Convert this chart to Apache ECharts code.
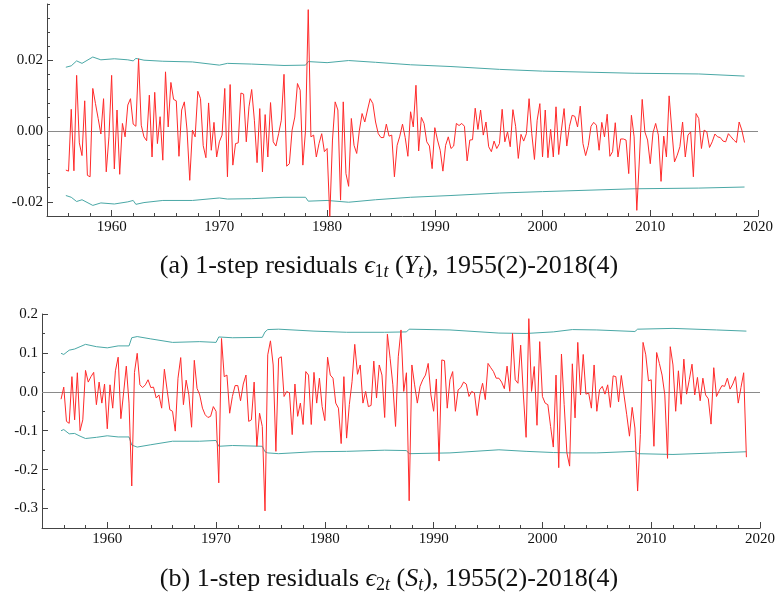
<!DOCTYPE html>
<html>
<head>
<meta charset="utf-8">
<title>1-step residuals</title>
<script src="https://cdn.jsdelivr.net/npm/echarts@6/dist/echarts.min.js"></script>
<style>
  html, body { margin: 0; padding: 0; background: #fff; }
  #chart { width: 778px; height: 596px; }
</style>
</head>
<body>
<div id="chart"></div>
<script>
const FONT = '"Liberation Serif", "DejaVu Serif", serif';
const RED = "#ff2a2a";
const TEAL = "#4aa8a6";
const AXIS = "#444";

// residuals are quarterly, first point plotted at 1955.75
const quarterStart = 1955.75;
const quarterStep = 0.25;

const residY = [
  -0.011, -0.0113, 0.0062, -0.0112, 0.0158, -0.0033, -0.0069, 0.0086, -0.0125, -0.0129,
  0.0121, 0.0078, 0.0036, -0.0008, 0.0092, -0.0115, -0.0016, 0.0158, -0.0107, 0.006,
  -0.0122, 0.0022, -0.0016, 0.0074, 0.0092, 0.002, 0.0014, 0.0205, 0.0017, -0.0016,
  -0.0027, 0.0102, -0.0073, 0.011, -0.0035, 0.0041, -0.0082, 0.0168, 0.0012, 0.0138,
  0.009, 0.0086, -0.0071, 0.006, 0.0083, 0.0003, -0.0139, 0.0003, -0.0016, 0.0113,
  0.0092, -0.0041, -0.0075, 0.008, -0.0054, 0.0025, -0.0073, -0.003, -0.0011, 0.0121,
  -0.0129, 0.0132, -0.0096, -0.0035, -0.0033, 0.0108, 0.0105, -0.003, 0.0069, 0.0118,
  0.0031, -0.0089, 0.0064, -0.0115, 0.0047, -0.0073, 0.0081, -0.003, -0.0042, -0.0007,
  0.0031, 0.0161, -0.0099, -0.0092, 0.0003, 0.004, 0.0135, 0.0116, -0.0096, 0.0003,
  0.0344, -0.0016, -0.0011, -0.0073, -0.0035, -0.0007, -0.0058, -0.0049, -0.0242, -0.0025,
  0.0083, 0.006, -0.0195, 0.0083, -0.012, -0.0156, 0.0036, -0.004, -0.0063, 0.0003,
  0.005, 0.0026, 0.006, 0.0092, 0.0078, 0.0026, -0.0007, -0.0018, -0.0018, 0.002,
  -0.0014, -0.0011, -0.0129, -0.004, -0.0014, 0.002, -0.0018, -0.0071, 0.0055, 0.0012,
  0.013, -0.0056, 0.0039, 0.0022, -0.003, -0.0042, -0.0106, 0.001, -0.0025, -0.0054,
  -0.0113, -0.004, -0.0016, -0.0049, -0.0042, 0.0022, 0.0016, 0.0022, 0.0014, -0.0084,
  -0.0025, -0.0024, 0.0065, 0.0005, 0.006, -0.0011, 0.0026, -0.0044, -0.0058, -0.0028,
  -0.0049, -0.0035, 0.0062, -0.003, -0.0002, -0.0044, 0.0061, 0.0014, -0.0077, -0.0009,
  -0.0028, -0.0007, 0.0092, -0.0007, -0.008, 0.0031, 0.0078, -0.0073, 0.006, -0.0075,
  0.0005, -0.0073, 0.0069, -0.0066, 0.0003, 0.0064, -0.0042, 0.0014, 0.0045, 0.0042,
  0.0012, 0.0071, -0.0035, -0.0069, -0.004, 0.0014, 0.0025, 0.0017, -0.0054, 0.0025,
  -0.0016, 0.0048, -0.0071, -0.0058, 0.0024, -0.0073, -0.0022, -0.0022, -0.0025, -0.012,
  0.0045, -0.0016, -0.0224, -0.0073, 0.009, -0.0002, -0.0025, -0.0092, -0.0005, 0.0022,
  -0.0011, -0.0142, -0.0014, -0.0073, 0.01, 0.0003, -0.0087, -0.0068, -0.0044, 0.0026,
  -0.0073, -0.0011, -0.0002, -0.0129, 0.005, 0.0036, -0.0049, 0.0003, -0.0002, -0.0046,
  -0.003, -0.0008, -0.0016, -0.0018, -0.0028, -0.003, -0.0007, -0.0016, -0.0025, -0.0032,
  0.0026, 0.0003, -0.0032,
];

const residS = [
  -0.019, 0.012, -0.076, -0.081, 0.039, -0.072, 0.049, -0.1, -0.072, 0.055,
  0.025, 0.039, 0.05, -0.033, 0.025, -0.029, 0.02, -0.095, 0.018, -0.042,
  0.054, 0.089, -0.069, -0.003, 0.066, -0.029, -0.242, 0.05, 0.099, 0.018,
  0.011, 0.018, 0.031, 0.011, 0.012, -0.016, -0.008, -0.042, 0.058, 0.005,
  -0.046, -0.05, -0.101, 0.035, 0.088, -0.033, 0.03, -0.008, -0.091, 0.081,
  0.009, -0.008, -0.042, -0.059, -0.066, -0.063, -0.038, -0.05, -0.234, 0.137,
  0.039, 0.043, -0.055, -0.012, 0.016, 0.016, -0.023, 0.02, 0.043, -0.076,
  -0.072, 0.025, -0.14, -0.055, -0.089, -0.306, 0.095, 0.131, 0.069, -0.153,
  0.086, 0.09, -0.012, 0.001, -0.003, -0.11, 0.02, -0.063, -0.029, -0.084,
  0.052, 0.043, -0.084, 0.05, -0.029, 0.035, -0.038, -0.074, 0.089, 0.043,
  0.035, -0.029, -0.042, -0.133, 0.039, -0.119, -0.033, 0.026, 0.122, 0.045,
  0.069, -0.029, 0.001, -0.038, -0.035, 0.079, -0.016, 0.069, 0.043, -0.066,
  0.148, 0.086, 0.018, -0.089, 0.09, 0.159, 0.001, 0.049, -0.28, 0.069,
  0.018, -0.029, 0.014, 0.031, 0.043, 0.073, -0.008, -0.05, 0.033, -0.178,
  0.082, 0.08, -0.042, 0.031, 0.052, -0.05, 0.005, 0.011, 0.025, 0.02,
  -0.012, 0.001, -0.003, -0.061, -0.008, 0.022, -0.02, 0.073, 0.062, 0.052,
  0.035, 0.035, 0.025, 0.008, 0.066, 0.001, 0.15, 0.031, 0.022, 0.12,
  -0.008, -0.117, 0.188, 0.001, 0.065, -0.086, 0.129, -0.012, -0.029, -0.033,
  -0.089, -0.142, 0.043, -0.195, 0.097, -0.033, -0.157, -0.191, 0.072, -0.067,
  0.127, -0.008, 0.096, -0.006, -0.003, -0.042, 0.069, -0.05, 0.005, 0.014,
  -0.006, 0.018, -0.04, 0.041, 0.039, -0.026, 0.042, -0.008, -0.059, -0.114,
  -0.04, -0.093, -0.255, -0.11, 0.127, 0.095, 0.028, 0.031, -0.14, 0.101,
  0.073, 0.043, -0.008, -0.171, 0.116, 0.069, -0.05, 0.054, -0.032, 0.084,
  -0.006, 0.031, 0.071, -0.008, 0.037, -0.023, 0.035, -0.008, -0.018, -0.083,
  0.062, -0.012, 0.003, 0.016, 0.014, 0.035, 0.007, 0.02, 0.039, -0.029,
  0.011, 0.049, -0.168,
];

// +-2 standard error bands, read at knots
const bandYYears = [
  1955.75, 1956.25, 1956.75, 1957.25, 1958.25, 1959.0, 1960.25, 1961.5, 1962.0, 1962.25,
  1963.0, 1964.75, 1967.5, 1970.0, 1970.75, 1973.0, 1976.0, 1978.0, 1978.25, 1980.0,
  1982.0, 1984.5, 1987.75, 1991.5, 1996.0, 2000.0, 2008.5, 2014.5, 2018.75,
];
const bandYUpper = [
  0.0181, 0.0185, 0.0199, 0.0192, 0.021, 0.0202, 0.0205, 0.0202, 0.0199, 0.0206,
  0.0201, 0.0198, 0.0196, 0.0187, 0.0192, 0.019, 0.0186, 0.0187, 0.0197, 0.0194,
  0.02, 0.0195, 0.0188, 0.0183, 0.0175, 0.017, 0.0164, 0.0162, 0.0156,
];
const bandYLower = [
  -0.0182, -0.0187, -0.0199, -0.0194, -0.021, -0.0203, -0.0206, -0.02, -0.0196, -0.0207,
  -0.0202, -0.0196, -0.0196, -0.0189, -0.0192, -0.0191, -0.0187, -0.0187, -0.0198, -0.0196,
  -0.0201, -0.0194, -0.0187, -0.0182, -0.0175, -0.0171, -0.0163, -0.0161, -0.0158,
];

const bandSYears = [
  1955.75, 1956.0, 1956.5, 1957.0, 1957.5, 1958.0, 1959.0, 1960.0, 1961.0, 1962.0,
  1962.25, 1962.75, 1964.0, 1966.0, 1968.5, 1970.0, 1970.25, 1971.5, 1974.25, 1974.5,
  1974.75, 1975.75, 1979.0, 1982.0, 1985.5, 1987.5, 1987.75, 1991.5, 1996.0, 1998.5,
  2001.0, 2002.75, 2005.0, 2008.5, 2008.75, 2012.0, 2016.0, 2018.75,
];
const bandSUpper = [
  0.099, 0.096, 0.107, 0.11, 0.116, 0.122, 0.116, 0.113, 0.118, 0.118,
  0.139, 0.142, 0.136, 0.127, 0.129, 0.127, 0.141, 0.139, 0.14, 0.154,
  0.16, 0.161, 0.156, 0.153, 0.153, 0.154, 0.161, 0.159, 0.151, 0.15,
  0.154, 0.16, 0.159, 0.155, 0.161, 0.163, 0.159, 0.156,
];
const bandSLower = [
  -0.1, -0.097, -0.108, -0.107, -0.114, -0.12, -0.117, -0.113, -0.116, -0.116,
  -0.137, -0.142, -0.136, -0.127, -0.127, -0.125, -0.14, -0.138, -0.14, -0.154,
  -0.157, -0.159, -0.154, -0.153, -0.15, -0.151, -0.159, -0.157, -0.149, -0.153,
  -0.156, -0.157, -0.157, -0.153, -0.159, -0.161, -0.157, -0.154,
];

// ticks
const yearLabels = [1960, 1970, 1980, 1990, 2000, 2010, 2020];
const yearMinorTicks = [1956, 1958, 1962, 1964, 1966, 1968, 1972, 1974, 1976, 1978, 1982, 1984,
  1986, 1988, 1992, 1994, 1996, 1998, 2002, 2004, 2006, 2008, 2012, 2014, 2016, 2018];
const yTicksTop = [-0.02, 0, 0.02];
const yMinorTop = [-0.016, -0.012, -0.008, -0.004, 0.004, 0.008, 0.012, 0.016, 0.024, 0.028, 0.032, 0.036];
const yTicksBottom = [-0.3, -0.2, -0.1, 0, 0.1, 0.2];
const yMinorBottom = [-0.35, -0.25, -0.15, -0.05, 0.05, 0.15];

function quarterly(values) {
  return values.map((v, i) => [quarterStart + i * quarterStep, v]);
}

function knots(years, values) {
  return years.map((t, i) => [t, values[i]]);
}

function xAxes(gridIndex) {
  const base = {
    type: "value",
    gridIndex,
    min: 1954,
    max: 2020,
    position: "bottom",
    splitLine: { show: false },
  };
  return [
    {
      ...base,
      axisLine: { show: true, onZero: false, lineStyle: { color: AXIS, width: 1 } },
      axisTick: { inside: true, length: 6, customValues: yearLabels, lineStyle: { color: AXIS } },
      axisLabel: {
        customValues: yearLabels,
        margin: 4,
        fontFamily: FONT,
        fontSize: 15,
        color: "#111",
        formatter: (v) => String(v),
      },
    },
    {
      ...base,
      axisLine: { show: false, onZero: false },
      axisTick: { inside: true, length: 3, customValues: yearMinorTicks, lineStyle: { color: AXIS } },
      axisLabel: { show: false },
    },
  ];
}

function yAxes(gridIndex, min, max, labels, minor, digits) {
  const base = {
    type: "value",
    gridIndex,
    min,
    max,
    position: "left",
    splitLine: { show: false },
  };
  return [
    {
      ...base,
      axisLine: { show: true, onZero: false, lineStyle: { color: AXIS, width: 1 } },
      axisTick: { inside: true, length: 6, customValues: labels, lineStyle: { color: AXIS } },
      axisLabel: {
        customValues: labels,
        margin: 4,
        fontFamily: FONT,
        fontSize: 15,
        color: "#111",
        formatter: (v) => v.toFixed(digits),
      },
    },
    {
      ...base,
      axisLine: { show: false, onZero: false },
      axisTick: { inside: true, length: 3, customValues: minor, lineStyle: { color: AXIS } },
      axisLabel: { show: false },
    },
  ];
}

function bandSeries(data, axisBase, withZero) {
  const s = {
    type: "line",
    xAxisIndex: axisBase,
    yAxisIndex: axisBase,
    data,
    showSymbol: false,
    symbol: "none",
    lineStyle: { color: TEAL, width: 1 },
    z: 2,
  };
  if (withZero) {
    s.markLine = {
      silent: true,
      symbol: "none",
      label: { show: false },
      lineStyle: { color: "#8a8a8a", width: 1, type: "solid" },
      data: [{ yAxis: 0 }],
      z: 1,
    };
  }
  return s;
}

function residSeries(data, axisBase) {
  return {
    type: "line",
    xAxisIndex: axisBase,
    yAxisIndex: axisBase,
    data,
    showSymbol: false,
    symbol: "none",
    lineStyle: { color: RED, width: 1 },
    z: 3,
  };
}

function caption(letter, sub, variable, top) {
  const base = {
    fontFamily: FONT,
    fontSize: 26,
    fontWeight: "normal",
    color: "#111",
    lineHeight: 30,
    verticalAlign: "middle",
  };
  const small = {
    fontFamily: FONT,
    fontSize: 18,
    fontWeight: "normal",
    color: "#111",
    lineHeight: 18,
    verticalAlign: "bottom",
  };
  return {
    left: "center",
    top,
    text: `{n|(${letter}) 1-step residuals }{i|ϵ}{s|${sub}}{si|t}{n| (}{i|${variable}}{si|t}{n|), 1955(2)-2018(4)}`,
    textStyle: {
      fontWeight: "normal",
      rich: {
        n: base,
        i: { ...base, fontStyle: "italic" },
        s: small,
        si: { ...small, fontStyle: "italic" },
      },
    },
  };
}

const chart = echarts.init(document.getElementById("chart"));

chart.setOption({
  animation: false,
  backgroundColor: "#fff",
  title: [caption("a", "1", "Y", 246), caption("b", "2", "S", 559)],
  grid: [
    { left: 47, top: 4, width: 711, height: 212 },
    { left: 42, top: 314, width: 720, height: 214 },
  ],
  xAxis: [...xAxes(0), ...xAxes(1)],
  yAxis: [
    ...yAxes(0, -0.024, 0.036, yTicksTop, yMinorTop, 2),
    ...yAxes(1, -0.35, 0.2, yTicksBottom, yMinorBottom, 1),
  ],
  series: [
    bandSeries(knots(bandYYears, bandYUpper), 0, true),
    bandSeries(knots(bandYYears, bandYLower), 0, false),
    residSeries(quarterly(residY), 0),
    bandSeries(knots(bandSYears, bandSUpper), 2, true),
    bandSeries(knots(bandSYears, bandSLower), 2, false),
    residSeries(quarterly(residS), 2),
  ],
});
</script>
</body>
</html>
